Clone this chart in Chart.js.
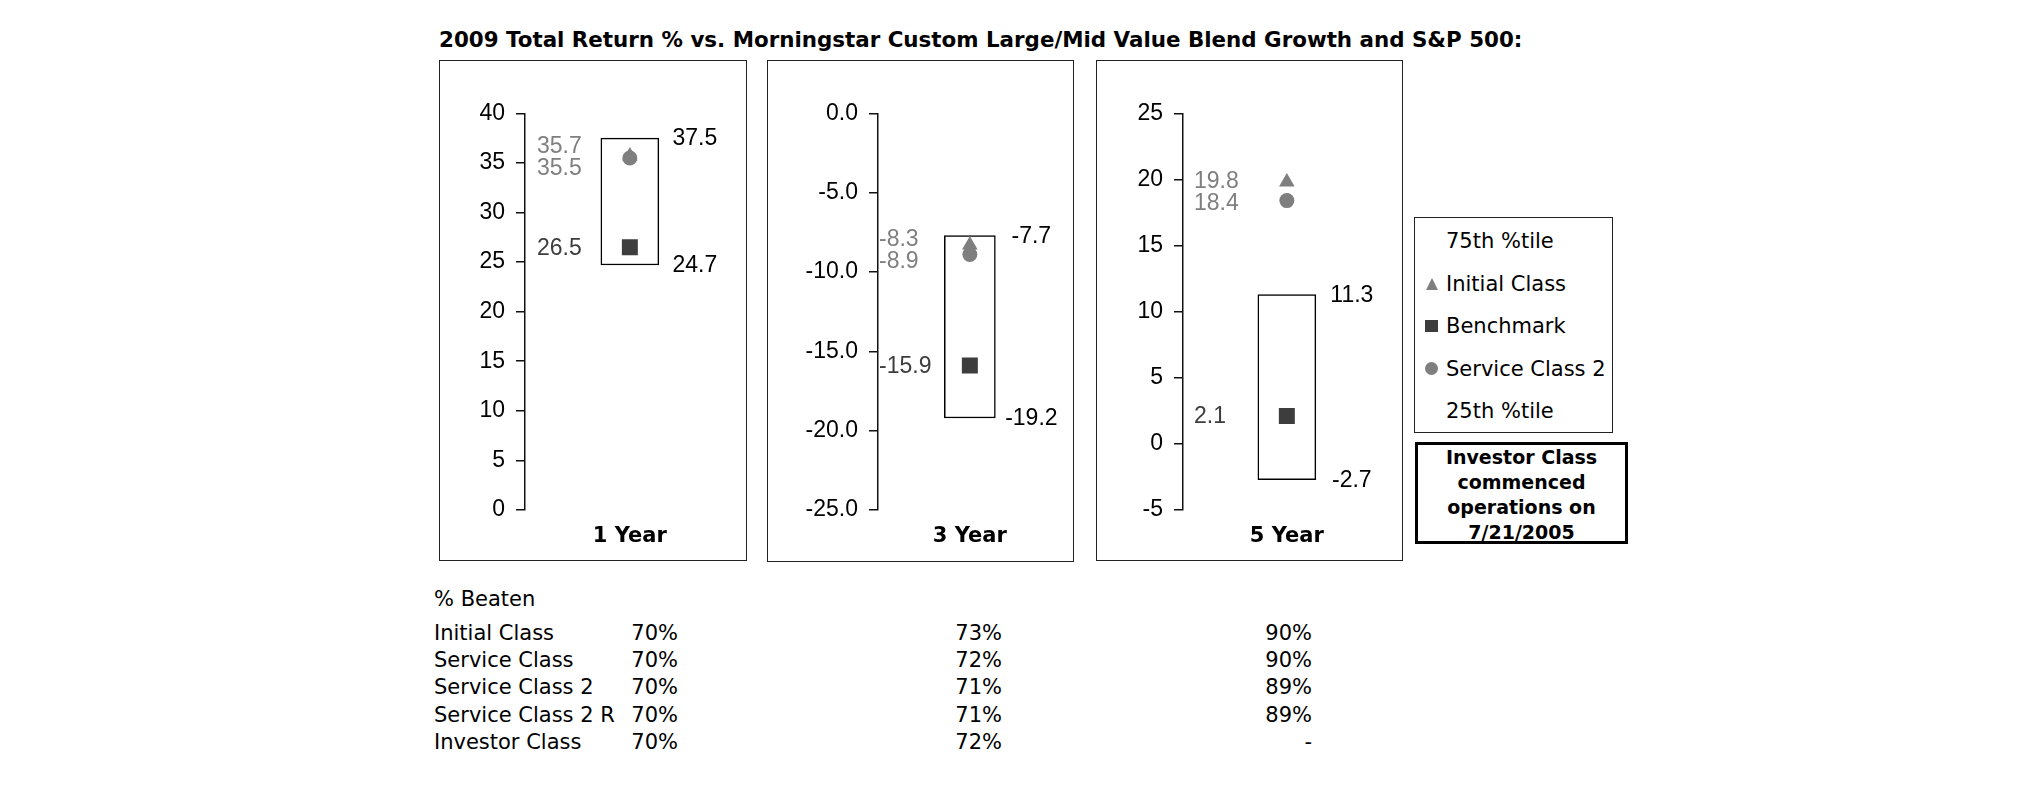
<!DOCTYPE html>
<html>
<head>
<meta charset="utf-8">
<script src="https://cdn.jsdelivr.net/npm/chart.js@4.4.1/dist/chart.umd.min.js"></script>
<style>
  html, body { margin: 0; padding: 0; background: #fff; }
  #page { position: relative; width: 2025px; height: 806px; overflow: hidden; font-family: "DejaVu Sans", Verdana, sans-serif; color: #000; }
  .abs { position: absolute; white-space: nowrap; }
  .panel { position: absolute; box-sizing: border-box; border: 1.5px solid #222; }
  .txt { font-size: 21px; line-height: 21px; }
  .legend { position: absolute; left: 1414px; top: 217px; width: 199px; height: 216px; box-sizing: border-box; border: 1.5px solid #222; }
  .legend .row { position: absolute; left: 31px; font-size: 21px; line-height: 21px; white-space: nowrap; }
  .mk { position: absolute; }
  .note { position: absolute; left: 1415px; top: 442px; width: 213px; height: 102px; box-sizing: border-box; border: 3px solid #000; font-weight: bold; font-size: 19px; line-height: 25px; text-align: center; }
</style>
</head>
<body>
<div id="page">
  <div class="abs" style="left:439px; top:29px; font-weight:bold; font-size:21.4px; line-height:21px;">2009 Total Return % vs. Morningstar Custom Large/Mid Value Blend Growth and S&amp;P 500:</div>

  <div class="panel" style="left:439px; top:60px; width:308px; height:501px;"></div>
  <div class="panel" style="left:767px; top:60px; width:307px; height:502px;"></div>
  <div class="panel" style="left:1096px; top:60px; width:307px; height:501px;"></div>
  <canvas id="c0" class="abs" style="left:440px; top:61px;" width="306" height="499"></canvas>
  <canvas id="c1" class="abs" style="left:768px; top:61px;" width="305" height="499"></canvas>
  <canvas id="c2" class="abs" style="left:1097px; top:61px;" width="305" height="499"></canvas>

  <div class="legend" id="legend"></div>
  <div class="note">Investor Class<br>commenced<br>operations on<br>7/21/2005</div>

  <div id="beaten"></div>
</div>

<script>
// ── data ──────────────────────────────────────────────────────────────────────
const PERIODS = ["1 Year", "3 Year", "5 Year"];
const PCT_75 = [37.5, -7.7, 11.3];
const PCT_25 = [24.7, -19.2, -2.7];
const INITIAL_CLASS = [35.7, -8.3, 19.8];
const BENCHMARK = [26.5, -15.9, 2.1];
const SERVICE_CLASS_2 = [35.5, -8.9, 18.4];

const AXIS_MIN = [0, -25, -5];
const AXIS_MAX = [40, 0, 25];
const AXIS_STEP = [5, 5, 5];
const TICK_DECIMALS = [0, 1, 0];

const BEATEN_CLASSES = ["Initial Class", "Service Class", "Service Class 2", "Service Class 2 R", "Investor Class"];
const BEATEN_1Y = ["70%", "70%", "70%", "70%", "70%"];
const BEATEN_3Y = ["73%", "72%", "71%", "71%", "72%"];
const BEATEN_5Y = ["90%", "90%", "89%", "89%", "-"];

const LEGEND_ITEMS = ["75th %tile", "Initial Class", "Benchmark", "Service Class 2", "25th %tile"];

// ── style ─────────────────────────────────────────────────────────────────────
const GRAY = "#7f7f7f";
const DARK = "#3d3d3d";
const NUM_FONT = '"Liberation Sans Narrow", "Liberation Sans", Arial, sans-serif';

// per panel layout: y-axis width, right padding, box width, left label offset
const PANEL_LAYOUT = [
  { axisW: 85, padR: 9, barW: 58, lblOff: 12 },
  { axisW: 110, padR: 7, barW: 51, lblOff: 1 },
  { axisW: 86, padR: 10, barW: 58, lblOff: 11 },
];

const valueLabels = {
  id: "valueLabels",
  afterDatasetsDraw(chart, args, opts) {
    const { ctx, chartArea, scales } = chart;
    const i = opts.panel;
    const y = scales.y;
    const bar = chart.getDatasetMeta(3).data[0];
    ctx.save();
    ctx.font = `23px ${NUM_FONT}`;
    ctx.textBaseline = "middle";

    // fund labels on the left, pushed apart when they collide
    let yi = y.getPixelForValue(INITIAL_CLASS[i]);
    let ys = y.getPixelForValue(SERVICE_CLASS_2[i]);
    const gap = 22;
    if (Math.abs(ys - yi) < gap) {
      const mid = (yi + ys) / 2;
      const up = yi <= ys;
      yi = mid + (up ? -gap / 2 : gap / 2);
      ys = mid + (up ? gap / 2 : -gap / 2);
    }
    const lx = chartArea.left + opts.lblOff;
    ctx.textAlign = "left";
    ctx.fillStyle = GRAY;
    ctx.fillText(INITIAL_CLASS[i].toFixed(1), lx, yi + 1);
    ctx.fillText(SERVICE_CLASS_2[i].toFixed(1), lx, ys + 1);
    ctx.fillStyle = DARK;
    ctx.fillText(BENCHMARK[i].toFixed(1), lx, y.getPixelForValue(BENCHMARK[i]) + 1);

    // percentile labels right of the box
    const rx = bar.x + bar.width / 2 + 36;
    ctx.textAlign = "center";
    ctx.fillStyle = "#000";
    ctx.fillText(PCT_75[i].toFixed(1), rx, y.getPixelForValue(PCT_75[i]) + 1);
    ctx.fillText(PCT_25[i].toFixed(1), rx, y.getPixelForValue(PCT_25[i]) + 1);
    ctx.restore();
  },
};

function makePanel(i) {
  const L = PANEL_LAYOUT[i];
  const canvas = document.getElementById("c" + i);
  return new Chart(canvas, {
    type: "bar",
    data: {
      labels: [PERIODS[i]],
      datasets: [
        { type: "line", label: "Service Class 2", data: [SERVICE_CLASS_2[i]], showLine: false,
          pointStyle: "circle", pointRadius: 7.5, pointBackgroundColor: GRAY, pointBorderWidth: 0, order: 1 },
        { type: "line", label: "Initial Class", data: [INITIAL_CLASS[i]], showLine: false,
          pointStyle: "triangle", pointRadius: 9, pointBackgroundColor: GRAY, pointBorderWidth: 0, order: 2 },
        { type: "line", label: "Benchmark", data: [BENCHMARK[i]], showLine: false,
          pointStyle: "rect", pointRadius: 11.3, pointBackgroundColor: DARK, pointBorderWidth: 0, order: 3 },
        { label: "25th-75th %tile", data: [[PCT_25[i], PCT_75[i]]], backgroundColor: "#fff",
          borderColor: "#000", borderWidth: 1.5, borderSkipped: false, barThickness: L.barW, order: 4 },
      ],
    },
    options: {
      responsive: false,
      animation: false,
      layout: { padding: { top: 52.3, right: L.padR, left: 0, bottom: 0 } },
      plugins: {
        legend: { display: false },
        tooltip: { enabled: false },
        valueLabels: { panel: i, lblOff: L.lblOff },
      },
      scales: {
        x: {
          grid: { display: false, drawTicks: false },
          border: { display: false },
          ticks: { color: "#000", padding: 13.5, font: { family: '"DejaVu Sans", Verdana, sans-serif', size: 21, weight: "bold" } },
          afterFit: (s) => { s.height = 50; },
        },
        y: {
          min: AXIS_MIN[i],
          max: AXIS_MAX[i],
          grid: { drawOnChartArea: false, color: "#111", lineWidth: 1.5, tickLength: 9 },
          border: { display: true, color: "#111", width: 1.5 },
          ticks: {
            stepSize: AXIS_STEP[i],
            padding: 11,
            color: "#000",
            font: { family: NUM_FONT, size: 23 },
            callback: (v) => Number(v).toFixed(TICK_DECIMALS[i]),
          },
          afterFit: (s) => { s.width = L.axisW; },
        },
      },
    },
    plugins: [valueLabels],
  });
}

PERIODS.forEach((_, i) => makePanel(i));

// ── legend ────────────────────────────────────────────────────────────────────
const legend = document.getElementById("legend");
const MARKERS = [
  null,
  (t) => `<div class="mk" style="left:11px; top:${t + 4}px; width:0; height:0; border-left:6px solid transparent; border-right:6px solid transparent; border-bottom:12px solid ${GRAY};"></div>`,
  (t) => `<div class="mk" style="left:10px; top:${t + 4}px; width:13px; height:12px; background:${DARK};"></div>`,
  (t) => `<div class="mk" style="left:10px; top:${t + 3}px; width:13px; height:13px; border-radius:50%; background:${GRAY};"></div>`,
  null,
];
legend.innerHTML = LEGEND_ITEMS.map((label, k) => {
  const top = 241.7 + k * 42.5 - 217 - 1.5 - 10;
  const mk = MARKERS[k] ? MARKERS[k](top) : "";
  return mk + `<div class="row" style="top:${top}px;">${label}</div>`;
}).join("");

// ── % beaten table ────────────────────────────────────────────────────────────
const beaten = document.getElementById("beaten");
let html = `<div class="abs txt" style="left:434px; top:589px;">% Beaten</div>`;
BEATEN_CLASSES.forEach((name, r) => {
  const top = 622.9 + r * 27.2;
  html += `<div class="abs txt" style="left:434px; top:${top}px;">${name}</div>`;
  html += `<div class="abs txt" style="left:578px; width:100px; text-align:right; top:${top}px;">${BEATEN_1Y[r]}</div>`;
  html += `<div class="abs txt" style="left:902px; width:100px; text-align:right; top:${top}px;">${BEATEN_3Y[r]}</div>`;
  html += `<div class="abs txt" style="left:1212px; width:100px; text-align:right; top:${top}px;">${BEATEN_5Y[r]}</div>`;
});
beaten.innerHTML = html;
</script>
</body>
</html>
